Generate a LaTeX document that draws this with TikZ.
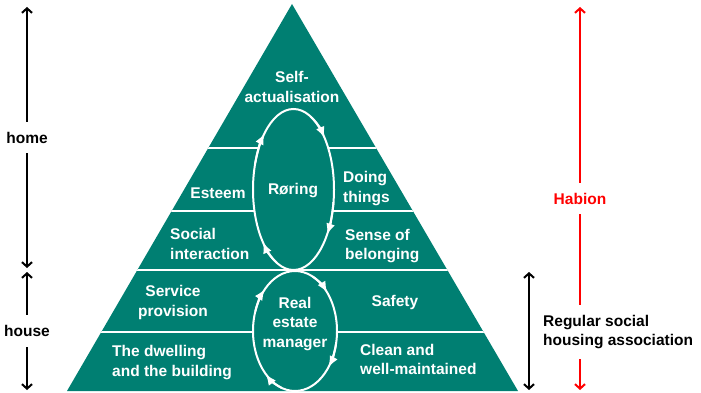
\documentclass[tikz,border=0pt]{standalone}
\usepackage{fontspec}
\setmainfont{Liberation Sans}
\usetikzlibrary{arrows.meta}
\definecolor{pyrgreen}{RGB}{0,127,114}

\begin{document}
\begin{tikzpicture}[x=1pt, y=-1pt,
		every node/.style = {font=\fontsize{15.5}{19.5}\selectfont\bfseries, inner sep=0pt},
		txt/.style = {text=white, align=left},
		ring/.style = {draw=white, line width=2pt, fill=pyrgreen},
		ringtip/.style = {white, line width=2pt, -{Latex[length=11pt,width=9pt]}},
		sidearrow/.style = {line width=2pt, {Straight Barb[length=4.5pt,width=10pt]}-{Straight Barb[length=4.5pt,width=10pt]}},
		sidelabel/.style = {fill=white, inner xsep=4pt, inner ysep=10pt}]
	
	\useasboundingbox (0,0) rectangle (701,393);
	
	% pyramid and its bands
	\coordinate (apex) at (292,4);
	\coordinate (bl) at (67,391);
	\coordinate (br) at (518,391);
	\fill[pyrgreen] (apex) -- (bl) -- (br) -- cycle;
	\begin{scope}
		\clip (apex) -- (bl) -- (br) -- cycle;
		\foreach \y in {148,211,270,332}
		\draw[white, line width=2.5pt] (0,\y) -- (701,\y);
	\end{scope}
	
	% the two cycles
	\coordinate (up) at (293.5,189.5);
	\coordinate (low) at (295,331);
	\draw[ring] (up) ellipse [x radius=40.5, y radius=80.5];
	\draw[ring] (low) ellipse [x radius=42, y radius=60];
	\foreach \a in {34,139,224,320}
	\draw[ringtip] (up) ++(\a-25:40.5 and 80.5) arc[start angle=\a-25, end angle=\a, x radius=40.5, y radius=80.5];
	\foreach \a in {37,134,224,320}
	\draw[ringtip] (low) ++(\a-25:42 and 60) arc[start angle=\a-25, end angle=\a, x radius=42, y radius=60];
	
	% texts in the pyramid
	\node[txt, align=center] (top) at (292,87) {Self-\\actualisation};
	\node[txt] (roring) at (293,191) {Røring};
	\node[txt] (esteem) at (218,193) {Esteem};
	\node[txt, anchor=west] (doing) at (343,188.5) {Doing\\things};
	\node[txt, anchor=west] (social) at (170,244) {Social\\interaction};
	\node[txt, anchor=west] (belong) at (345,246) {Sense of\\belonging};
	\node[txt, align=center] (service) at (173,302.5) {Service\\provision};
	\node[txt] (safety) at (395,302) {Safety};
	\node[txt, align=center] (manager) at (295,324) {Real\\estate\\manager};
	\node[txt, anchor=west] (dwelling) at (112,362.5) {The dwelling\\and the building};
	\node[txt, anchor=west] (clean) at (360,359.5) {Clean and\\well-maintained};
	
	% side arrows
	\coordinate (hm1) at (27,7);
	\coordinate (hm2) at (27,268);
	\coordinate (hs1) at (27,272);
	\coordinate (hs2) at (27,390);
	\coordinate (hb1) at (580,7);
	\coordinate (hb2) at (580,390);
	\coordinate (rg1) at (529,272);
	\coordinate (rg2) at (529,390);
	\draw[sidearrow] (hm1) -- node[sidelabel, inner xsep=6pt] (home) {home} (hm2);
	\draw[sidearrow] (hs1) -- node[sidelabel, inner xsep=6pt] (house) {house} (hs2);
	\draw[sidearrow, red] (hb1) -- node[sidelabel, text=red] (habion) {Habion} (hb2);
	\draw[sidearrow] (rg1) -- (rg2);
	\node[sidelabel, inner xsep=3pt, anchor=west, align=left] (regular) at (540,332) {Regular social\\housing association};
\end{tikzpicture}
\end{document}
